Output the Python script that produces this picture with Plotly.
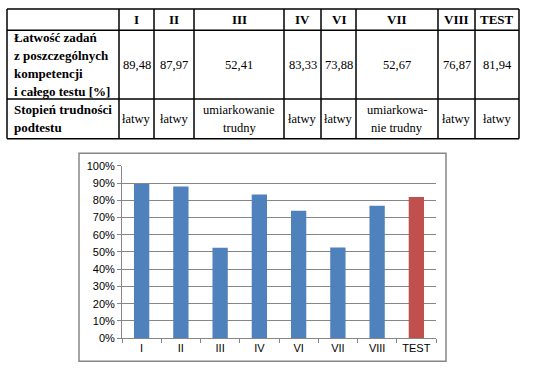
import plotly.graph_objects as go

# ---- data ----
categories = ["I", "II", "III", "IV", "VI", "VII", "VIII", "TEST"]
values = [89.48, 87.97, 52.41, 83.33, 73.88, 52.67, 76.87, 81.94]
difficulty = [["łatwy"], ["łatwy"], ["umiarkowanie", "trudny"], ["łatwy"], ["łatwy"],
              ["umiarkowa-", "nie trudny"], ["łatwy"], ["łatwy"]]
row_labels = [["Łatwość zadań", "z poszczególnych", "kompetencji", "i całego testu [%]"],
              ["Stopień trudności", "podtestu"]]
y_tick_values = [0, 0.1, 0.2, 0.3, 0.4, 0.5, 0.6, 0.7, 0.8, 0.9, 1.0]

# ---- style ----
W, H = 545, 378
col_edges = [7, 119, 154, 194, 284, 321, 356, 438, 475, 519]
row_edges = [3, 25, 96, 137]
line_gap = 18.5
bar_colors = ["#4F81BD"] * 7 + ["#C0504D"]
grid = "#868686"
serif = "Liberation Serif, Times New Roman, DejaVu Serif, serif"
sans = "Liberation Sans, Arial, sans-serif"

def px(x):
    return x / W

def py(y):
    return 1 - y / H

fig = go.Figure()
fig.add_trace(go.Bar(x=categories, y=[v / 100 for v in values],
                     marker=dict(color=bar_colors, line=dict(width=0)),
                     width=0.39, hoverinfo="skip"))

shapes = []
annotations = []
# table grid
for y in row_edges:
    shapes.append(dict(type="line", xref="paper", yref="paper",
                       x0=px(col_edges[0]), x1=px(col_edges[-1]), y0=py(y), y1=py(y),
                       line=dict(color="black", width=1.5)))
for x in col_edges:
    shapes.append(dict(type="line", xref="paper", yref="paper",
                       x0=px(x), x1=px(x), y0=py(row_edges[0]), y1=py(row_edges[-1]),
                       line=dict(color="black", width=1.5)))

def add_text(text, x, y, bold=False, xanchor="center", size=13):
    annotations.append(dict(text=("<b>%s</b>" % text) if bold else text,
                            x=px(x), y=py(y), xref="paper", yref="paper",
                            xanchor=xanchor, yanchor="middle", showarrow=False,
                            font=dict(family=serif, size=size, color="black")))

def add_lines(lines, xc, yc, bold=False, xanchor="center", size=13):
    n = len(lines)
    for i, t in enumerate(lines):
        add_text(t, xc, yc + (i - (n - 1) / 2) * line_gap, bold, xanchor, size)

# header row
for i, c in enumerate(categories):
    xc = (col_edges[i + 1] + col_edges[i + 2]) / 2
    add_text(c, xc, (row_edges[0] + row_edges[1]) / 2, bold=True)
    add_text(("%.2f" % values[i]).replace(".", ","), xc, (row_edges[1] + row_edges[2]) / 2, size=12.5)
    add_lines(difficulty[i], xc, (row_edges[2] + row_edges[3]) / 2 + 0.5, size=12.5)
# row labels
add_lines(row_labels[0], col_edges[0] + 5, (row_edges[1] + row_edges[2]) / 2, bold=True, xanchor="left")
add_lines(row_labels[1], col_edges[0] + 5, (row_edges[2] + row_edges[3]) / 2, bold=True, xanchor="left")

# chart border
shapes.append(dict(type="rect", xref="paper", yref="paper",
                   x0=px(79), x1=px(446), y0=py(367), y1=py(152),
                   line=dict(color=grid, width=1.5)))

fig.update_layout(
    width=W, height=H, margin=dict(l=0, r=0, t=0, b=0),
    paper_bgcolor="white", plot_bgcolor="white", showlegend=False,
    shapes=shapes, annotations=annotations,
    xaxis=dict(domain=[px(122), px(436)], type="category", tickson="boundaries",
               ticks="outside", ticklen=4, tickcolor=grid, showline=True, linecolor=grid,
               showgrid=False, tickfont=dict(family=sans, size=11, color="black")),
    yaxis=dict(domain=[py(343), py(165)], range=[0, 1.0005], tickvals=y_tick_values,
               tickformat=".0%", ticks="outside", ticklen=4, tickcolor=grid,
               showline=True, linecolor=grid, showgrid=True, gridcolor=grid, gridwidth=1,
               zeroline=False, tickfont=dict(family=sans, size=11, color="black")),
)

fig.write_html("out.html", config={"displayModeBar": False},
               post_script="document.body.style.margin='0';document.body.style.overflow='hidden';")
